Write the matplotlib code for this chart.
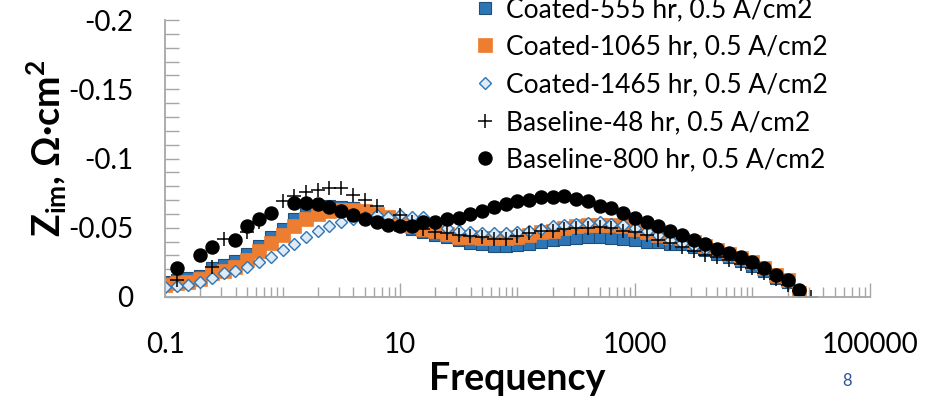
import numpy as np
import matplotlib
matplotlib.use("Agg")
import matplotlib.pyplot as plt
from matplotlib.ticker import FixedLocator, LogLocator, NullFormatter

plt.rcParams['font.family'] = ['Lato', 'DejaVu Sans']
plt.rcParams['mathtext.fontset'] = 'custom'
plt.rcParams['mathtext.bf'] = 'Lato:bold'
plt.rcParams['mathtext.rm'] = 'Lato'
plt.rcParams['mathtext.fallback'] = 'stixsans'

nan = np.nan

# frequencies, 10 points per decade (Hz)
freq = [0.1, 0.126, 0.158, 0.2, 0.251, 0.316, 0.398, 0.501, 0.631, 0.794,
        1.0, 1.26, 1.58, 2.0, 2.51, 3.16, 3.98, 5.01, 6.31, 7.94,
        10, 12.6, 15.8, 20, 25.1, 31.6, 39.8, 50.1, 63.1, 79.4,
        100, 126, 158, 200, 251, 316, 398, 501, 631, 794,
        1000, 1259, 1585, 1995, 2512, 3162, 3981, 5012, 6310, 7943,
        10000, 12589, 15849, 19953, 25119, 31623]

coated_555 = [-0.011, -0.012, -0.014, -0.015, -0.021, -0.023, -0.026, -0.031, -0.037, -0.043,
              -0.049, -0.056, -0.062, -0.065, -0.066, -0.065, -0.064, -0.062, -0.060, -0.057,
              -0.052, -0.049, -0.047, -0.045, -0.043, -0.041, -0.039, -0.038, -0.037, -0.037,
              -0.0375, -0.0385, -0.040, -0.041, -0.042, -0.0425, -0.043, -0.043, -0.0425, -0.042,
              -0.041, -0.040, -0.0395, -0.0385, -0.038, -0.036, -0.034, -0.031, -0.0287, -0.026,
              -0.0226, -0.019, -0.014, -0.0106, -0.002, nan]

coated_1065 = [-0.009, -0.010, -0.011, -0.013, -0.017, -0.019, -0.022, -0.027, -0.033, -0.039,
               -0.045, -0.051, -0.056, -0.060, -0.062, -0.063, -0.063, -0.062, -0.060, -0.058,
               -0.055, -0.051, -0.049, -0.048, -0.0455, -0.0435, -0.043, -0.0426, -0.0426, -0.0426,
               -0.0435, -0.045, -0.0467, -0.048, -0.050, -0.051, -0.052, -0.052, -0.052, -0.051,
               -0.049, -0.047, -0.045, -0.043, -0.041, -0.040, -0.037, -0.034, -0.031, -0.0285,
               -0.025, -0.021, -0.016, -0.012, -0.003, nan]

coated_1465 = [-0.007, -0.008, -0.009, -0.011, -0.014, -0.017, -0.019, -0.022, -0.025, -0.029,
               -0.034, -0.038, -0.043, -0.048, -0.051, -0.054, -0.056, -0.058, -0.059, -0.058,
               -0.059, -0.058, -0.058, -0.053, -0.050, -0.048, -0.047, -0.0465, -0.0465, -0.0465,
               -0.047, -0.048, -0.049, -0.051, -0.052, -0.053, -0.0535, -0.054, -0.053, -0.052,
               -0.050, -0.048, -0.045, -0.041, -0.039, -0.037, -0.035, -0.032, -0.029, -0.027,
               -0.023, -0.019, -0.015, -0.010, -0.001, nan]

baseline_48 = [nan, -0.012, nan, nan, -0.022, -0.042, nan, -0.047, -0.054, nan,
               -0.069, -0.073, -0.076, -0.077, -0.079, -0.079, -0.074, -0.070, -0.066, nan,
               -0.059, -0.054, -0.049, -0.047, -0.046, -0.045, -0.044, -0.043, -0.042, -0.042,
               -0.044, -0.046, -0.048, -0.048, -0.049, -0.050, -0.050, -0.0505, -0.050, -0.048,
               -0.047, -0.0445, -0.041, -0.039, -0.036, -0.033, -0.030, -0.0287, -0.0267, -0.024,
               -0.021, -0.017, -0.013, -0.009, -0.004, 0.0]

baseline_800 = [nan, -0.021, nan, -0.030, -0.036, nan, -0.041, -0.051, -0.056, -0.061,
                nan, -0.068, -0.068, -0.067, -0.065, -0.062, -0.059, -0.056, -0.054, -0.052,
                -0.051, -0.051, -0.054, -0.054, -0.056, -0.057, -0.060, -0.062, -0.065, -0.067,
                -0.069, -0.070, -0.072, -0.072, -0.073, -0.071, -0.069, -0.066, -0.064, -0.061,
                -0.057, -0.054, -0.051, -0.048, -0.045, -0.041, -0.038, -0.035, -0.032, -0.029,
                -0.0255, -0.021, -0.016, -0.012, -0.005, nan]

labels = ['Coated-555 hr, 0.5 A/cm2', 'Coated-1065 hr, 0.5 A/cm2', 'Coated-1465 hr, 0.5 A/cm2',
          'Baseline-48 hr, 0.5 A/cm2', 'Baseline-800 hr, 0.5 A/cm2']

xticks = [0.1, 10, 1000, 100000]
xticklabels = ['0.1', '10', '1000', '100000']
yticks = [0, -0.05, -0.1, -0.15, -0.2]
yticklabels = ['0', '-0.05', '-0.1', '-0.15', '-0.2']

fig = plt.figure(figsize=(9.27, 4.01), dpi=100)
ax = fig.add_axes([0.178, 0.2594, 0.7605, 0.6906])

ax.plot(freq, coated_555, 's', ms=8.6, mfc='#2E75B6', mec='#1F4E79', mew=0.8, label=labels[0])
ax.plot(freq, coated_1065, 's', ms=9.6, mfc='#ED7D31', mec='#ED7D31', mew=0.5, label=labels[1])
ax.plot(freq, coated_1465, 'D', ms=6.6, mfc='#DEEBF7', mec='#2E75B6', mew=1.0, label=labels[2])
ax.plot(freq, baseline_48, '+', ms=10, color='black', mew=1.1, label=labels[3])
ax.plot(freq, baseline_800, 'o', ms=9.4, color='black', label=labels[4])

ax.set_xscale('log')
ax.set_xlim(0.1, 100000)
ax.set_ylim(0, -0.2)

ax.xaxis.set_major_locator(FixedLocator(xticks))
ax.set_xticklabels(xticklabels)
ax.xaxis.set_minor_locator(LogLocator(base=10, subs=np.arange(1, 10), numticks=20))
ax.xaxis.set_minor_formatter(NullFormatter())
ax.set_yticks(yticks)
ax.set_yticklabels(yticklabels)
ax.yaxis.set_minor_locator(FixedLocator(np.arange(0, -0.201, -0.01)))

for s in ['top', 'right']:
    ax.spines[s].set_visible(False)
for s in ['left', 'bottom']:
    ax.spines[s].set_color('#A6A6A6')
    ax.spines[s].set_linewidth(1.3)

ax.tick_params(axis='x', which='major', direction='in', length=10, width=1, color='#A6A6A6',
               labelsize=20, pad=25)
ax.tick_params(axis='x', which='minor', direction='in', length=7, width=1, color='#A6A6A6')
ax.tick_params(axis='y', which='both', direction='in', length=10, width=1, color='#A6A6A6',
               labelsize=20, pad=23)

ax.set_xlabel('Frequency', fontsize=27, fontweight='bold', labelpad=3)
fig.text(47 / 927, 1 - 148 / 401, r'Z$_{\mathbf{im}}$, Ω·cm$^{\mathbf{2}}$', rotation=90,
         ha='center', va='center', fontsize=27, fontweight='bold')

ax.legend(loc='upper left', bbox_to_anchor=(474 / 927, 1 + 3 / 401), bbox_transform=fig.transFigure,
          frameon=False, fontsize=19, handlelength=0.8, handletextpad=0.4, labelspacing=0.48,
          borderpad=0, borderaxespad=0)

fig.text(847 / 927, 1 - 381 / 401, '8', color='#2F5597', fontsize=12, ha='center', va='center')

fig.savefig('out.png', dpi=100)
